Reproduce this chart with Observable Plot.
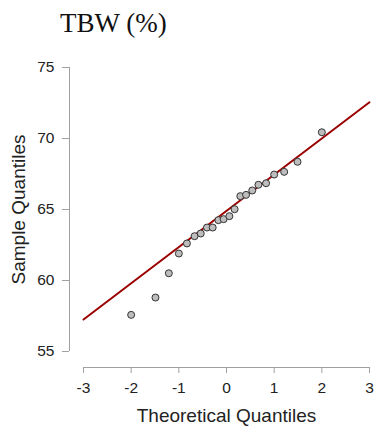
<!DOCTYPE html>
<html>
<head>
<meta charset="utf-8">
<script src="https://cdn.jsdelivr.net/npm/d3@7"></script>
<script src="https://cdn.jsdelivr.net/npm/@observablehq/plot@0.6"></script>
<style>
  body { margin: 0; background: #fff; }
  #title { height: 44px; padding: 8px 0 0 60px; box-sizing: border-box; font-family: "Liberation Serif", "Times New Roman", serif; font-size: 27px; line-height: 30px; color: #111; }
  svg { display: block; }
</style>
</head>
<body>
<div id="title">TBW (%)</div>
<div id="chart"></div>
<script>
const title = "TBW (%)";
const theoretical = [-2.00, -1.49, -1.21, -1.00, -0.83, -0.67, -0.54, -0.41, -0.29, -0.17, -0.06, 0.06, 0.17, 0.29, 0.41, 0.54, 0.67, 0.83, 1.00, 1.21, 1.49, 2.00];
const sample = [57.58, 58.80, 60.51, 61.90, 62.61, 63.12, 63.31, 63.73, 63.73, 64.25, 64.32, 64.53, 65.02, 65.94, 66.03, 66.34, 66.74, 66.85, 67.46, 67.65, 68.36, 70.44];
const lineX = [-3, 3];
const lineY = [57.25, 72.55];
const xTicks = [-3, -2, -1, 0, 1, 2, 3];
const yTicks = [55, 60, 65, 70, 75];
const xLabel = "Theoretical Quantiles";
const yLabel = "Sample Quantiles";

const points = theoretical.map((t, i) => ({t, s: sample[i]}));
const fitLine = lineX.map((x, i) => ({x, y: lineY[i]}));

const axisGray = "#a0a0a0";
const textColor = "#222";

const chart = Plot.plot({
  width: 379,
  height: 383,
  marginTop: 23,
  marginBottom: 76,
  marginLeft: 83,
  marginRight: 10,
  style: {fontFamily: "'Liberation Sans', Arial, sans-serif", fontSize: "15px", background: "#fff"},
  x: {domain: [-3, 3]},
  y: {domain: [55, 75]},
  marks: [
    Plot.ruleX([-3], {y1: 55, y2: 75, dx: -14, stroke: axisGray, strokeWidth: 1}),
    Plot.ruleY([55], {x1: -3, x2: 3, dy: 16, stroke: axisGray, strokeWidth: 1}),
    Plot.axisY(yTicks, {anchor: "left", dx: -14, tickSize: 7, tickPadding: 8, stroke: axisGray, fill: textColor, fontSize: 15.5, label: null}),
    Plot.axisX(xTicks, {anchor: "bottom", dy: 16, tickSize: 6, tickPadding: 8, stroke: axisGray, fill: textColor, fontSize: 15.5, label: null, tickFormat: d => d < 0 ? "-" + Math.abs(d) : String(d)}),
    Plot.line(fitLine, {x: "x", y: "y", stroke: "#9b0000", strokeWidth: 2}),
    Plot.dot(points, {x: "t", y: "s", r: 3.5, fill: "#bdbdbd", stroke: "#333", strokeWidth: 1}),
    Plot.text([xLabel], {frameAnchor: "bottom", dy: 64.8, text: d => d, fontSize: 19, fill: textColor, lineAnchor: "middle", textAnchor: "middle"}),
    Plot.text([yLabel], {frameAnchor: "left", dx: -65, rotate: -90, text: d => d, fontSize: 19, fill: textColor, lineAnchor: "middle", textAnchor: "middle"})
  ]
});
document.getElementById("chart").appendChild(chart);
</script>
</body>
</html>
